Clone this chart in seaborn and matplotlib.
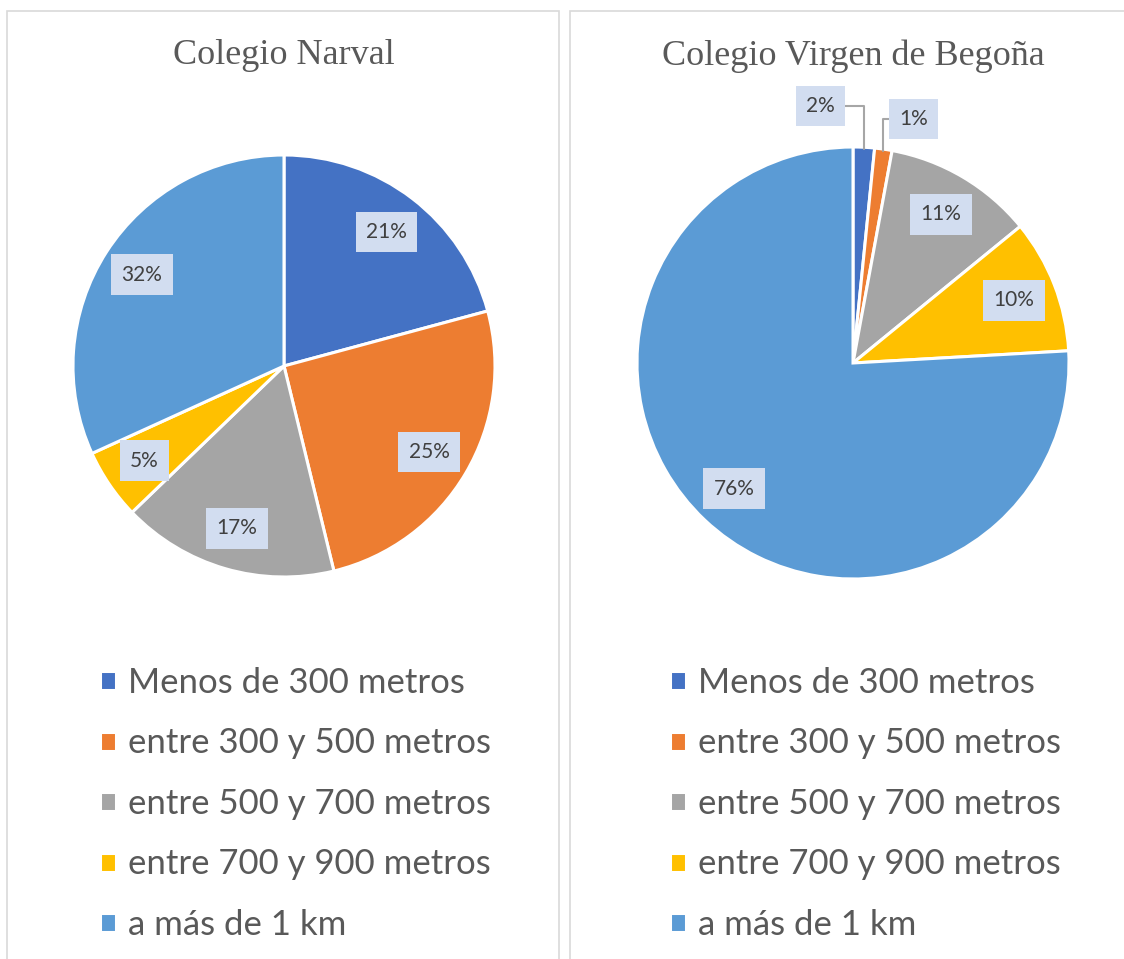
import matplotlib.pyplot as plt
import seaborn as sns
import numpy as np
from matplotlib.patches import Rectangle

# data
categories = ["Menos de 300 metros", "entre 300 y 500 metros", "entre 500 y 700 metros",
              "entre 700 y 900 metros", "a más de 1 km"]
narval = [20.8, 25.4, 16.6, 5.4, 31.8]
begona = [1.6, 1.3, 11.2, 10.0, 75.9]
titles = ["Colegio Narval", "Colegio Virgen de Begoña"]

colors = sns.color_palette(["#4472C4", "#ED7D31", "#A5A5A5", "#FFC000", "#5B9BD5"])

sns.set_theme(style="white")
plt.rcParams['font.family'] = ['Lato', 'DejaVu Sans']

W, H = 1124, 959
fig = plt.figure(figsize=(W / 100, H / 100), dpi=100)

def px(x0, y0, x1, y1):
    # pixel box (top-left origin) -> figure fraction rect
    return [x0 / W, 1 - y1 / H, (x1 - x0) / W, (y1 - y0) / H]

# panel borders
for x0, x1 in [(7, 559), (570, 1140)]:
    fig.patches.append(Rectangle((x0 / W, -0.05), (x1 - x0) / W, 1.05 - 11 / H,
                                 transform=fig.transFigure, fill=False,
                                 edgecolor="#d9d9d9", linewidth=1.2))

box = dict(boxstyle="square,pad=0.5", fc="#d2ddf0", ec="none")

def draw(rect, values, title, title_x, legend_x):
    ax = fig.add_axes(rect)
    wedges, texts, autotexts = ax.pie(values, colors=colors, startangle=90, counterclock=False,
                                      autopct="%.0f%%", pctdistance=0.8,
                                      wedgeprops=dict(edgecolor="white", linewidth=2.2),
                                      textprops=dict(color="#404040", fontsize=15))
    ax.set_xlim(-1, 1)
    ax.set_ylim(-1, 1)
    for t in autotexts:
        t.set_bbox(box)
    fig.text(title_x / W, 1 - 56 / H, title, ha="center", va="center",
             family="Liberation Serif", fontsize=26, color="#595959")
    ax.legend(wedges, categories, loc="upper left",
              bbox_to_anchor=(legend_x / W, 1 - 667 / H), bbox_transform=fig.transFigure,
              frameon=False, fontsize=25, labelcolor="#595959", borderpad=0, borderaxespad=0,
              handlelength=0.46, handleheight=0.46, handletextpad=0.35, labelspacing=0.82)
    return ax, wedges, autotexts

draw(px(73, 155, 495, 577), narval, titles[0], 284, 100)
ax2, wedges2, auto2 = draw(px(637, 147, 1069, 579), begona, titles[1], 853, 670)

# small slices get outside labels with leader lines
for i, (tx, ty) in enumerate([(-0.15, 1.19), (0.28, 1.13)]):
    w = wedges2[i]
    mid = np.deg2rad((w.theta1 + w.theta2) / 2)
    auto2[i].set_visible(False)
    ax2.annotate(auto2[i].get_text(), xy=(np.cos(mid), np.sin(mid) * 0.99), xytext=(tx, ty),
                 ha="center", va="center", color="#404040", fontsize=15, bbox=box,
                 annotation_clip=False,
                 arrowprops=dict(arrowstyle="-", color="#a6a6a6", lw=1.5, shrinkA=0, shrinkB=0,
                                 connectionstyle="angle,angleA=0,angleB=90,rad=0"))

plt.savefig("out.png", dpi=100)
